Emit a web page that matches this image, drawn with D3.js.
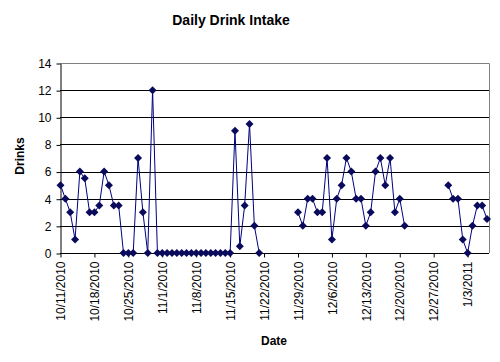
<!DOCTYPE html>
<html>
<head>
<meta charset="utf-8">
<script src="https://cdn.jsdelivr.net/npm/d3@7"></script>
<style>
body { margin: 0; background: #fff; }
text { font-family: "Liberation Sans", Arial, sans-serif; }
</style>
</head>
<body>
<svg width="500" height="362"></svg>
<script>
var startDate = "2010-10-11";
// one value per day from startDate, null = no entry
var drinks = [
	5, 4, 3, 1, 6, 5.5, 3, 3, 3.5, 6, 5, 3.5, 3.5, 0, 0, 0, 7, 3, 0, 12,
	0, 0, 0, 0, 0, 0, 0, 0, 0, 0, 0, 0, 0, 0, 0, 0,
	9, 0.5, 3.5, 9.5, 2, 0,
	null, null, null, null, null, null, null,
	3, 2, 4, 4, 3, 3, 7, 1, 4, 5, 7, 6, 4, 4, 2, 3, 6, 7, 5, 7, 3, 4, 2,
	null, null, null, null, null, null, null, null,
	5, 4, 4, 1, 0, 2, 3.5, 3.5, 2.5
];
var tickDates = ["2010-10-11", "2010-10-18", "2010-10-25", "2010-11-01", "2010-11-08",
	"2010-11-15", "2010-11-22", "2010-11-29", "2010-12-06", "2010-12-13",
	"2010-12-20", "2010-12-27", "2011-01-03"];
var yTicks = [0, 2, 4, 6, 8, 10, 12, 14];

var svg = d3.select("svg");
var parse = d3.utcParse("%Y-%m-%d");
var fmt = d3.utcFormat("%-m/%-d/%Y");
var t0 = parse(startDate);

var data = drinks.map((v, i) => ({ date: d3.utcDay.offset(t0, i), value: v }));

var plotL = 60, plotR = 489, plotT = 63, plotB = 253;

var x = d3.scaleUtc()
	.domain([t0, data[data.length - 1].date])
	.range([60.5, 487]);
var y = d3.scaleLinear()
	.domain([0, 14])
	.range([plotB, plotT]);

// gridlines
svg.append("g")
	.selectAll("line")
	.data(yTicks.filter(d => d > 0 && d < 14))
	.enter().append("line")
	.attr("x1", plotL).attr("x2", plotR)
	.attr("y1", d => Math.round(y(d)) + 0.5)
	.attr("y2", d => Math.round(y(d)) + 0.5)
	.attr("stroke", "#000");

// plot border (top and right)
svg.append("path")
	.attr("d", `M${plotL},${plotT + 0.5}H${plotR + 0.5}V${plotB}`)
	.attr("fill", "none")
	.attr("stroke", "#808080");

var yAxis = svg.append("g")
	.attr("transform", `translate(${plotL + 0.5},0.5)`)
	.call(d3.axisLeft(y).tickValues(yTicks).tickSize(4).tickPadding(5).tickSizeOuter(0));
yAxis.select(".domain").attr("stroke", "#000");
yAxis.selectAll("text").attr("font-size", "12px").attr("fill", "#000")
	.style("font-family", "'Liberation Sans', Arial, sans-serif");

var xAxis = svg.append("g")
	.attr("transform", `translate(0,${plotB + 0.5})`)
	.call(d3.axisBottom(x).tickValues(tickDates.map(parse)).tickFormat(fmt).tickSize(4).tickSizeOuter(0));
xAxis.select(".domain").attr("stroke", "#000").attr("d", `M${plotL},0H${plotR}`);
xAxis.selectAll("text")
	.attr("font-size", "12px")
	.attr("fill", "#000")
	.style("font-family", "'Liberation Sans', Arial, sans-serif")
	.attr("text-anchor", "end")
	.attr("transform", "rotate(-90)")
	.attr("x", -8)
	.attr("y", 0)
	.attr("dy", "0.35em");

var line = d3.line()
	.defined(d => d.value !== null)
	.x(d => x(d.date))
	.y(d => y(d.value));

svg.append("path")
	.datum(data)
	.attr("fill", "none")
	.attr("stroke", "#000080")
	.attr("stroke-width", 1)
	.attr("d", line);

svg.append("g")
	.selectAll("path")
	.data(data.filter(d => d.value !== null))
	.enter().append("path")
	.attr("transform", d => `translate(${x(d.date)},${y(d.value)})`)
	.attr("d", "M0,-4L4,0L0,4L-4,0Z")
	.attr("fill", "#0a0a5c");

svg.append("text")
	.attr("x", 231).attr("y", 25)
	.attr("text-anchor", "middle")
	.attr("font-size", "14px")
	.attr("font-weight", "bold")
	.text("Daily Drink Intake");

svg.append("text")
	.attr("transform", "translate(24,156) rotate(-90)")
	.attr("text-anchor", "middle")
	.attr("font-size", "12px")
	.attr("font-weight", "bold")
	.text("Drinks");

svg.append("text")
	.attr("x", 274).attr("y", 345)
	.attr("text-anchor", "middle")
	.attr("font-size", "12px")
	.attr("font-weight", "bold")
	.text("Date");
</script>
</body>
</html>
